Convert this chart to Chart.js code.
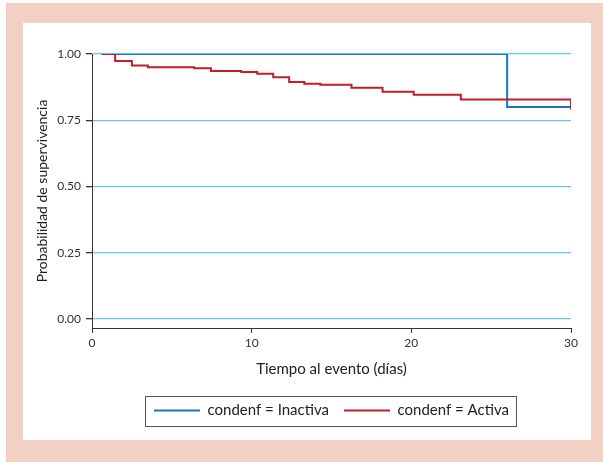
<!DOCTYPE html>
<html>
<head>
<meta charset="utf-8">
<script src="https://cdn.jsdelivr.net/npm/chart.js@4"></script>
<style>
	body { margin: 0; background: #ffffff; }
	#frame { position: absolute; left: 6px; top: 3px; width: 597px; height: 459px; background: #f2d1c4; }
	#inner { position: absolute; left: 23px; top: 23px; width: 568px; height: 417px; background: #ffffff; }
	#chart { position: absolute; left: 23px; top: 23px; }
</style>
</head>
<body>
<div id="frame"></div>
<div id="inner"></div>
<canvas id="chart" width="568" height="417"></canvas>
<script>
// Survival curves
const activaTimes = [0.6, 1.45, 2.5, 3.5, 6.4, 7.45, 9.35, 10.35, 11.35, 12.35, 13.3, 14.3, 16.25, 18.2, 20.15, 23.1, 30];
const activaSurv = [1.0, 0.974, 0.957, 0.95, 0.946, 0.936, 0.932, 0.925, 0.912, 0.894, 0.888, 0.884, 0.873, 0.858, 0.846, 0.828, 0.791];
const inactivaTimes = [0.6, 26, 30];
const inactivaSurv = [1.0, 0.8, 0.8];

const yTicks = [0, 0.25, 0.5, 0.75, 1];
const xTicks = [0, 10, 20, 30];

const seriesLabels = ["condenf = Inactiva", "condenf = Activa"];
const gridBlue = "#66c6ec";
const axisGray = "#333333";

function toPoints(xs, ys) {
	return xs.map((x, i) => ({ x: x, y: ys[i] }));
}

// draws the rectangle around the legend
const legendFrame = {
	id: "legendFrame",
	afterDraw(chart) {
		const boxes = chart.legend.legendHitBoxes;
		if (!boxes || !boxes.length) return;
		const first = boxes[0];
		const last = boxes[boxes.length - 1];
		const left = first.left - 9;
		const right = last.left + last.width + 7;
		const cy = first.top + first.height / 2;
		const ctx = chart.ctx;
		ctx.save();
		ctx.strokeStyle = "#555555";
		ctx.lineWidth = 1;
		ctx.strokeRect(Math.round(left) + 0.5, Math.round(cy - 15) + 0.5, Math.round(right - left), 30);
		ctx.restore();
	},
};

Chart.defaults.font.family = "Lato, 'Open Sans', sans-serif";

new Chart(document.getElementById("chart"), {
	type: "line",
	data: {
		datasets: [
			{
				label: seriesLabels[0],
				data: toPoints(inactivaTimes, inactivaSurv),
				borderColor: "#1b75bc",
				backgroundColor: "#1b75bc",
				borderWidth: 2,
				stepped: "before",
				pointRadius: 0,
				order: 1,
			},
			{
				label: seriesLabels[1],
				data: toPoints(activaTimes, activaSurv),
				borderColor: "#be1e2d",
				backgroundColor: "#be1e2d",
				borderWidth: 2,
				stepped: "before",
				pointRadius: 0,
				order: 0,
			},
		],
	},
	options: {
		responsive: false,
		animation: false,
		layout: { padding: { left: 0, right: 20, top: 31, bottom: 12 } },
		plugins: {
			tooltip: { enabled: false },
			legend: {
				position: "bottom",
				fullSize: false,
				labels: {
					boxWidth: 46,
					boxHeight: 0,
					padding: 15,
					color: "#222222",
					font: { size: 15 },
					sort: (a, b) => a.datasetIndex - b.datasetIndex,
				},
			},
		},
		scales: {
			x: {
				type: "linear",
				min: 0,
				max: 30,
				afterBuildTicks: (scale) => {
					scale.ticks = xTicks.map((v) => ({ value: v }));
				},
				afterFit: (scale) => {
					scale.height = 60;
				},
				ticks: { color: axisGray, padding: 3, font: { size: 12 } },
				grid: { drawOnChartArea: false, tickColor: axisGray, tickLength: 5 },
				border: { color: axisGray, width: 1 },
				title: {
					display: true,
					text: "Tiempo al evento (días)",
					color: "#222222",
					font: { size: 15 },
					padding: { top: 0, bottom: 10 },
				},
			},
			y: {
				min: -0.034,
				max: 1,
				afterBuildTicks: (scale) => {
					scale.ticks = yTicks.map((v) => ({ value: v }));
				},
				afterFit: (scale) => {
					scale.width = 69;
				},
				ticks: {
					color: axisGray,
					padding: 5,
					font: { size: 12 },
					callback: (v) => v.toFixed(2),
				},
				grid: { color: gridBlue, lineWidth: 1.3, tickColor: axisGray, tickLength: 6 },
				border: { color: axisGray, width: 1 },
				title: {
					display: true,
					text: "Probabilidad de supervivencia",
					color: "#222222",
					font: { size: 14 },
					padding: { top: 11, bottom: 0 },
				},
			},
		},
	},
	plugins: [legendFrame],
});
</script>
</body>
</html>
